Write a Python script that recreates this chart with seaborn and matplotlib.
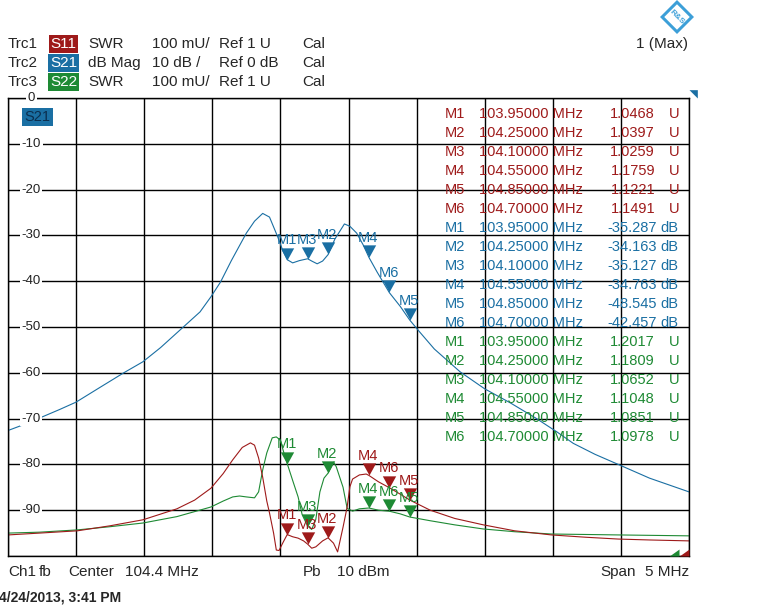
import numpy as np
import pandas as pd
import matplotlib
matplotlib.use("Agg")
import matplotlib.pyplot as plt
import seaborn as sns
from matplotlib.path import Path
from matplotlib.patches import Polygon

W, H = 781, 613

# sweep settings
center_mhz = 104.4
span_mhz = 5.0

# Trc2: S21, dB Mag
s21_freq = [101.90, 101.99, 102.13, 102.28, 102.40, 102.58, 102.75, 102.89, 103.02, 103.18,
            103.31, 103.39, 103.46, 103.54, 103.65, 103.71, 103.77, 103.82, 103.88, 103.92,
            103.95, 103.99, 104.04, 104.10, 104.13, 104.17, 104.21, 104.25, 104.30, 104.37,
            104.41, 104.46, 104.51, 104.55, 104.61, 104.70, 104.78, 104.85, 104.92, 105.03,
            105.22, 105.40, 105.59, 105.77, 105.93, 106.05, 106.21, 106.38, 106.61, 106.90]
s21_db = [-72.6, -71.6, -69.9, -68.0, -66.4, -63.1, -60.0, -57.6, -54.5, -50.2,
          -46.7, -43.4, -40.2, -35.5, -29.5, -26.9, -25.2, -26.0, -30.3, -33.5,
          -35.3, -36.0, -35.5, -35.1, -35.6, -36.2, -35.6, -34.2, -30.8, -27.5,
          -28.0, -29.5, -32.2, -34.8, -38.0, -42.5, -45.5, -48.5, -51.0, -54.8,
          -59.8, -63.5, -66.6, -69.8, -72.9, -75.4, -77.8, -80.0, -83.0, -86.0]

# Trc1: S11, SWR
s11_freq = [101.90, 102.13, 102.41, 102.65, 102.89, 103.14, 103.27, 103.39, 103.48, 103.55,
            103.62, 103.68, 103.71, 103.74, 103.77, 103.80, 103.82, 103.85, 103.87, 103.89,
            103.92, 103.95, 103.99, 104.03, 104.07, 104.10, 104.13, 104.16, 104.21, 104.25,
            104.29, 104.32, 104.36, 104.39, 104.41, 104.43, 104.48, 104.53, 104.55, 104.62,
            104.70, 104.78, 104.85, 105.00, 105.18, 105.39, 105.62, 105.89, 106.14, 106.38,
            106.61, 106.90]
s11_swr = [1.046, 1.050, 1.055, 1.066, 1.079, 1.103, 1.122, 1.148, 1.180, 1.210,
           1.237, 1.247, 1.242, 1.214, 1.172, 1.120, 1.094, 1.050, 1.013, 1.012,
           1.030, 1.0468, 1.042, 1.039, 1.033, 1.0259, 1.017, 1.020, 1.033, 1.0397,
           1.028, 1.009, 1.063, 1.107, 1.151, 1.168, 1.177, 1.179, 1.1759, 1.162,
           1.1491, 1.135, 1.1221, 1.100, 1.082, 1.068, 1.055, 1.046, 1.041, 1.037,
           1.035, 1.033]

# Trc3: S22, SWR
s22_freq = [101.90, 102.13, 102.41, 102.65, 102.89, 103.14, 103.39, 103.48, 103.55, 103.60,
            103.65, 103.71, 103.74, 103.77, 103.80, 103.84, 103.87, 103.90, 103.92, 103.95,
            103.99, 104.03, 104.06, 104.10, 104.13, 104.16, 104.19, 104.22, 104.25, 104.29,
            104.31, 104.36, 104.39, 104.43, 104.48, 104.55, 104.62, 104.70, 104.78, 104.85,
            105.00, 105.18, 105.39, 105.62, 105.89, 106.14, 106.38, 106.90]
s22_swr = [1.050, 1.052, 1.057, 1.064, 1.072, 1.086, 1.107, 1.120, 1.129, 1.131,
           1.129, 1.127, 1.140, 1.188, 1.225, 1.258, 1.260, 1.253, 1.231, 1.2017,
           1.165, 1.129, 1.090, 1.0652, 1.058, 1.080, 1.140, 1.170, 1.1809, 1.205,
           1.195, 1.150, 1.104, 1.098, 1.103, 1.1048, 1.100, 1.0978, 1.092, 1.0851,
           1.077, 1.068, 1.059, 1.053, 1.048, 1.047, 1.046, 1.044]

# markers
marker_names = ["M1", "M2", "M3", "M4", "M5", "M6"]
marker_freq = [103.95, 104.25, 104.10, 104.55, 104.85, 104.70]
s11_marker_swr = [1.0468, 1.0397, 1.0259, 1.1759, 1.1221, 1.1491]
s21_marker_db = [-35.287, -34.163, -35.127, -34.763, -48.545, -42.457]
s22_marker_swr = [1.2017, 1.1809, 1.0652, 1.1048, 1.0851, 1.0978]

ytick_vals = [0, -10, -20, -30, -40, -50, -60, -70, -80, -90]

red = "#9E1A1A"
blue = "#1A6FA3"
green = "#1E8A34"

sns.set_style("white")
plt.rcParams["font.family"] = ["Liberation Sans", "DejaVu Sans"]


def fx(x):
    return x / W


def fy(y):
    return 1 - y / H


def swr_to_grid(v):
    # 100 mU/div, Ref 1 U at the bottom line -> same grid as 10 dB/div, bottom -100
    return -100 + (np.asarray(v) - 1.0) * 100


fig = plt.figure(figsize=(W / 100, H / 100), dpi=100)
ax = fig.add_axes([fx(8), fy(556), (689 - 8) / W, (556 - 98) / H])

f0 = center_mhz - span_mhz / 2
f1 = center_mhz + span_mhz / 2
ax.set_xlim(f0, f1)
ax.set_ylim(-100, 0)
ax.set_xticks(np.linspace(f0, f1, 11))
ax.set_yticks(np.linspace(-100, 0, 11))
ax.grid(True, color="black", linewidth=1.0)
ax.tick_params(length=0, labelbottom=False, labelleft=False)
for sp in ax.spines.values():
    sp.set_color("black")
    sp.set_linewidth(1.0)
ax.set_axisbelow(True)

df21 = pd.DataFrame({"f": s21_freq, "v": s21_db})
df11 = pd.DataFrame({"f": s11_freq, "v": swr_to_grid(s11_swr)})
df22 = pd.DataFrame({"f": s22_freq, "v": swr_to_grid(s22_swr)})
sns.lineplot(data=df21, x="f", y="v", color=blue, linewidth=0.8, ax=ax, estimator=None)
sns.lineplot(data=df22, x="f", y="v", color=green, linewidth=0.8, ax=ax, estimator=None)
sns.lineplot(data=df11, x="f", y="v", color=red, linewidth=0.8, ax=ax, estimator=None)
ax.set_xlabel("")
ax.set_ylabel("")

# down-pointing marker triangle with its tip on the trace
tri = Path([(-0.55, 1.0), (0.55, 1.0), (0.0, 0.0), (-0.55, 1.0)],
           [Path.MOVETO, Path.LINETO, Path.LINETO, Path.CLOSEPOLY])

for vals, col in [(s21_marker_db, blue),
                  (swr_to_grid(s22_marker_swr), green),
                  (swr_to_grid(s11_marker_swr), red)]:
    ax.plot(marker_freq, vals, linestyle="none", marker=tri, markersize=17.5,
            color=col, markeredgewidth=0, zorder=5)
    for name, f, v in zip(marker_names, marker_freq, vals):
        ax.annotate(name, (f, v), xytext=(-0.5, 11), textcoords="offset points",
                    ha="center", va="baseline", color=col, fontsize=10.5, zorder=6)

# y labels drawn inside the grid
for v in ytick_vals:
    ax.text(0.034, v, str(v), transform=ax.get_yaxis_transform(),
            ha="center", va="center", fontsize=9.5, color="#222222", clip_on=False,
            bbox=dict(facecolor="white", edgecolor="none", pad=1.2), zorder=7)

ax.text(0.0435, 0.9585, "S21", transform=ax.transAxes, ha="center", va="center",
        fontsize=10.5, color="#0B2F4F",
        bbox=dict(facecolor=blue, edgecolor="none", pad=1.8), zorder=7)

# corner indicators
corner = Path([(0, 0), (0, 1), (-1.4, 0), (0, 0)])
ax.plot([f1], [0], linestyle="none", marker=Path([(1, 1), (0, 1), (1, 0), (1, 1)]),
        markersize=12, color=blue, markeredgewidth=0, clip_on=False, zorder=6)
ax.plot([f1 - span_mhz / 681 * 10], [-100], linestyle="none", marker=corner,
        markersize=14, color=green, markeredgewidth=0, clip_on=False, zorder=6)
ax.plot([f1], [-100], linestyle="none", marker=corner,
        markersize=14, color=red, markeredgewidth=0, clip_on=False, zorder=6)

# marker table
rows = []
for name, f, v in zip(marker_names, marker_freq, s11_marker_swr):
    rows.append((name, f, f"{v:.4f}", "U", red))
for name, f, v in zip(marker_names, marker_freq, s21_marker_db):
    rows.append((name, f, f"{v:.3f}", "dB", blue))
for name, f, v in zip(marker_names, marker_freq, s22_marker_swr):
    rows.append((name, f, f"{v:.4f}", "U", green))

for i, (name, f, val, unit, col) in enumerate(rows):
    y = 114 + i * 19.0
    fig.text(fx(445), fy(y), name, ha="left", va="center", color=col, fontsize=10.5)
    fig.text(fx(479), fy(y), f"{f:.5f} MHz", ha="left", va="center", color=col, fontsize=10.5)
    if unit == "U":
        fig.text(fx(655), fy(y), val, ha="right", va="center", color=col, fontsize=10.5)
        fig.text(fx(669), fy(y), unit, ha="left", va="center", color=col, fontsize=10.5)
    else:
        fig.text(fx(657), fy(y), val, ha="right", va="center", color=col, fontsize=10.5)
        fig.text(fx(660), fy(y), unit, ha="left", va="center", color=col, fontsize=10.5)

# header with trace settings
header = [
    ("Trc1", "S11", red, "SWR", "100 mU/", "Ref 1 U"),
    ("Trc2", "S21", blue, "dB Mag", "10 dB /", "Ref 0 dB"),
    ("Trc3", "S22", green, "SWR", "100 mU/", "Ref 1 U"),
]
for i, (trc, sp, col, fmt, scale, ref) in enumerate(header):
    y = 44 + i * 19
    fig.text(fx(8), fy(y), trc, ha="left", va="center", fontsize=11)
    fig.text(fx(63.5), fy(y), sp, ha="center", va="center", fontsize=11, color="white",
             bbox=dict(facecolor=col, edgecolor="none", boxstyle="square,pad=0.12"))
    fig.text(fx(88), fy(y), fmt, ha="left", va="center", fontsize=11)
    fig.text(fx(152), fy(y), scale, ha="left", va="center", fontsize=11)
    fig.text(fx(219), fy(y), ref, ha="left", va="center", fontsize=11)
    fig.text(fx(302), fy(y), "Cal", ha="left", va="center", fontsize=11)
fig.text(fx(636), fy(44), "1 (Max)", ha="left", va="center", fontsize=11)

# footer
fig.text(fx(8), fy(572), "Ch1", ha="left", va="center", fontsize=11)
fig.text(fx(39), fy(572), "fb", ha="left", va="center", fontsize=11)
fig.text(fx(68), fy(572), "Center", ha="left", va="center", fontsize=11)
fig.text(fx(125), fy(572), f"{center_mhz} MHz", ha="left", va="center", fontsize=11)
fig.text(fx(303), fy(572), "Pb", ha="left", va="center", fontsize=11)
fig.text(fx(337), fy(572), "10 dBm", ha="left", va="center", fontsize=11)
fig.text(fx(600), fy(572), "Span", ha="left", va="center", fontsize=11)
fig.text(fx(689), fy(572), f"{span_mhz:g} MHz", ha="right", va="center", fontsize=11)
fig.text(fx(-1), fy(597), "4/24/2013, 3:41 PM", ha="left", va="center", fontsize=10,
         fontweight="bold")

# R&S logo
lax = fig.add_axes([fx(660), fy(34), 34 / W, 34 / H])
lax.set_xlim(-1, 1)
lax.set_ylim(-1, 1)
lax.axis("off")
lax.add_patch(Polygon([(0, 1), (1, 0), (0, -1), (-1, 0)], closed=True, facecolor="#3C9FD8",
                      edgecolor="none"))
lax.add_patch(Polygon([(0, 0.75), (0.75, 0), (0, -0.75), (-0.75, 0)], closed=True,
                      facecolor="white", edgecolor="none"))
lax.text(0, 0, "R&S", ha="center", va="center", fontsize=6, color="#3C9FD8", rotation=-45,
         fontweight="bold")

fig.savefig("out.png", dpi=100)
